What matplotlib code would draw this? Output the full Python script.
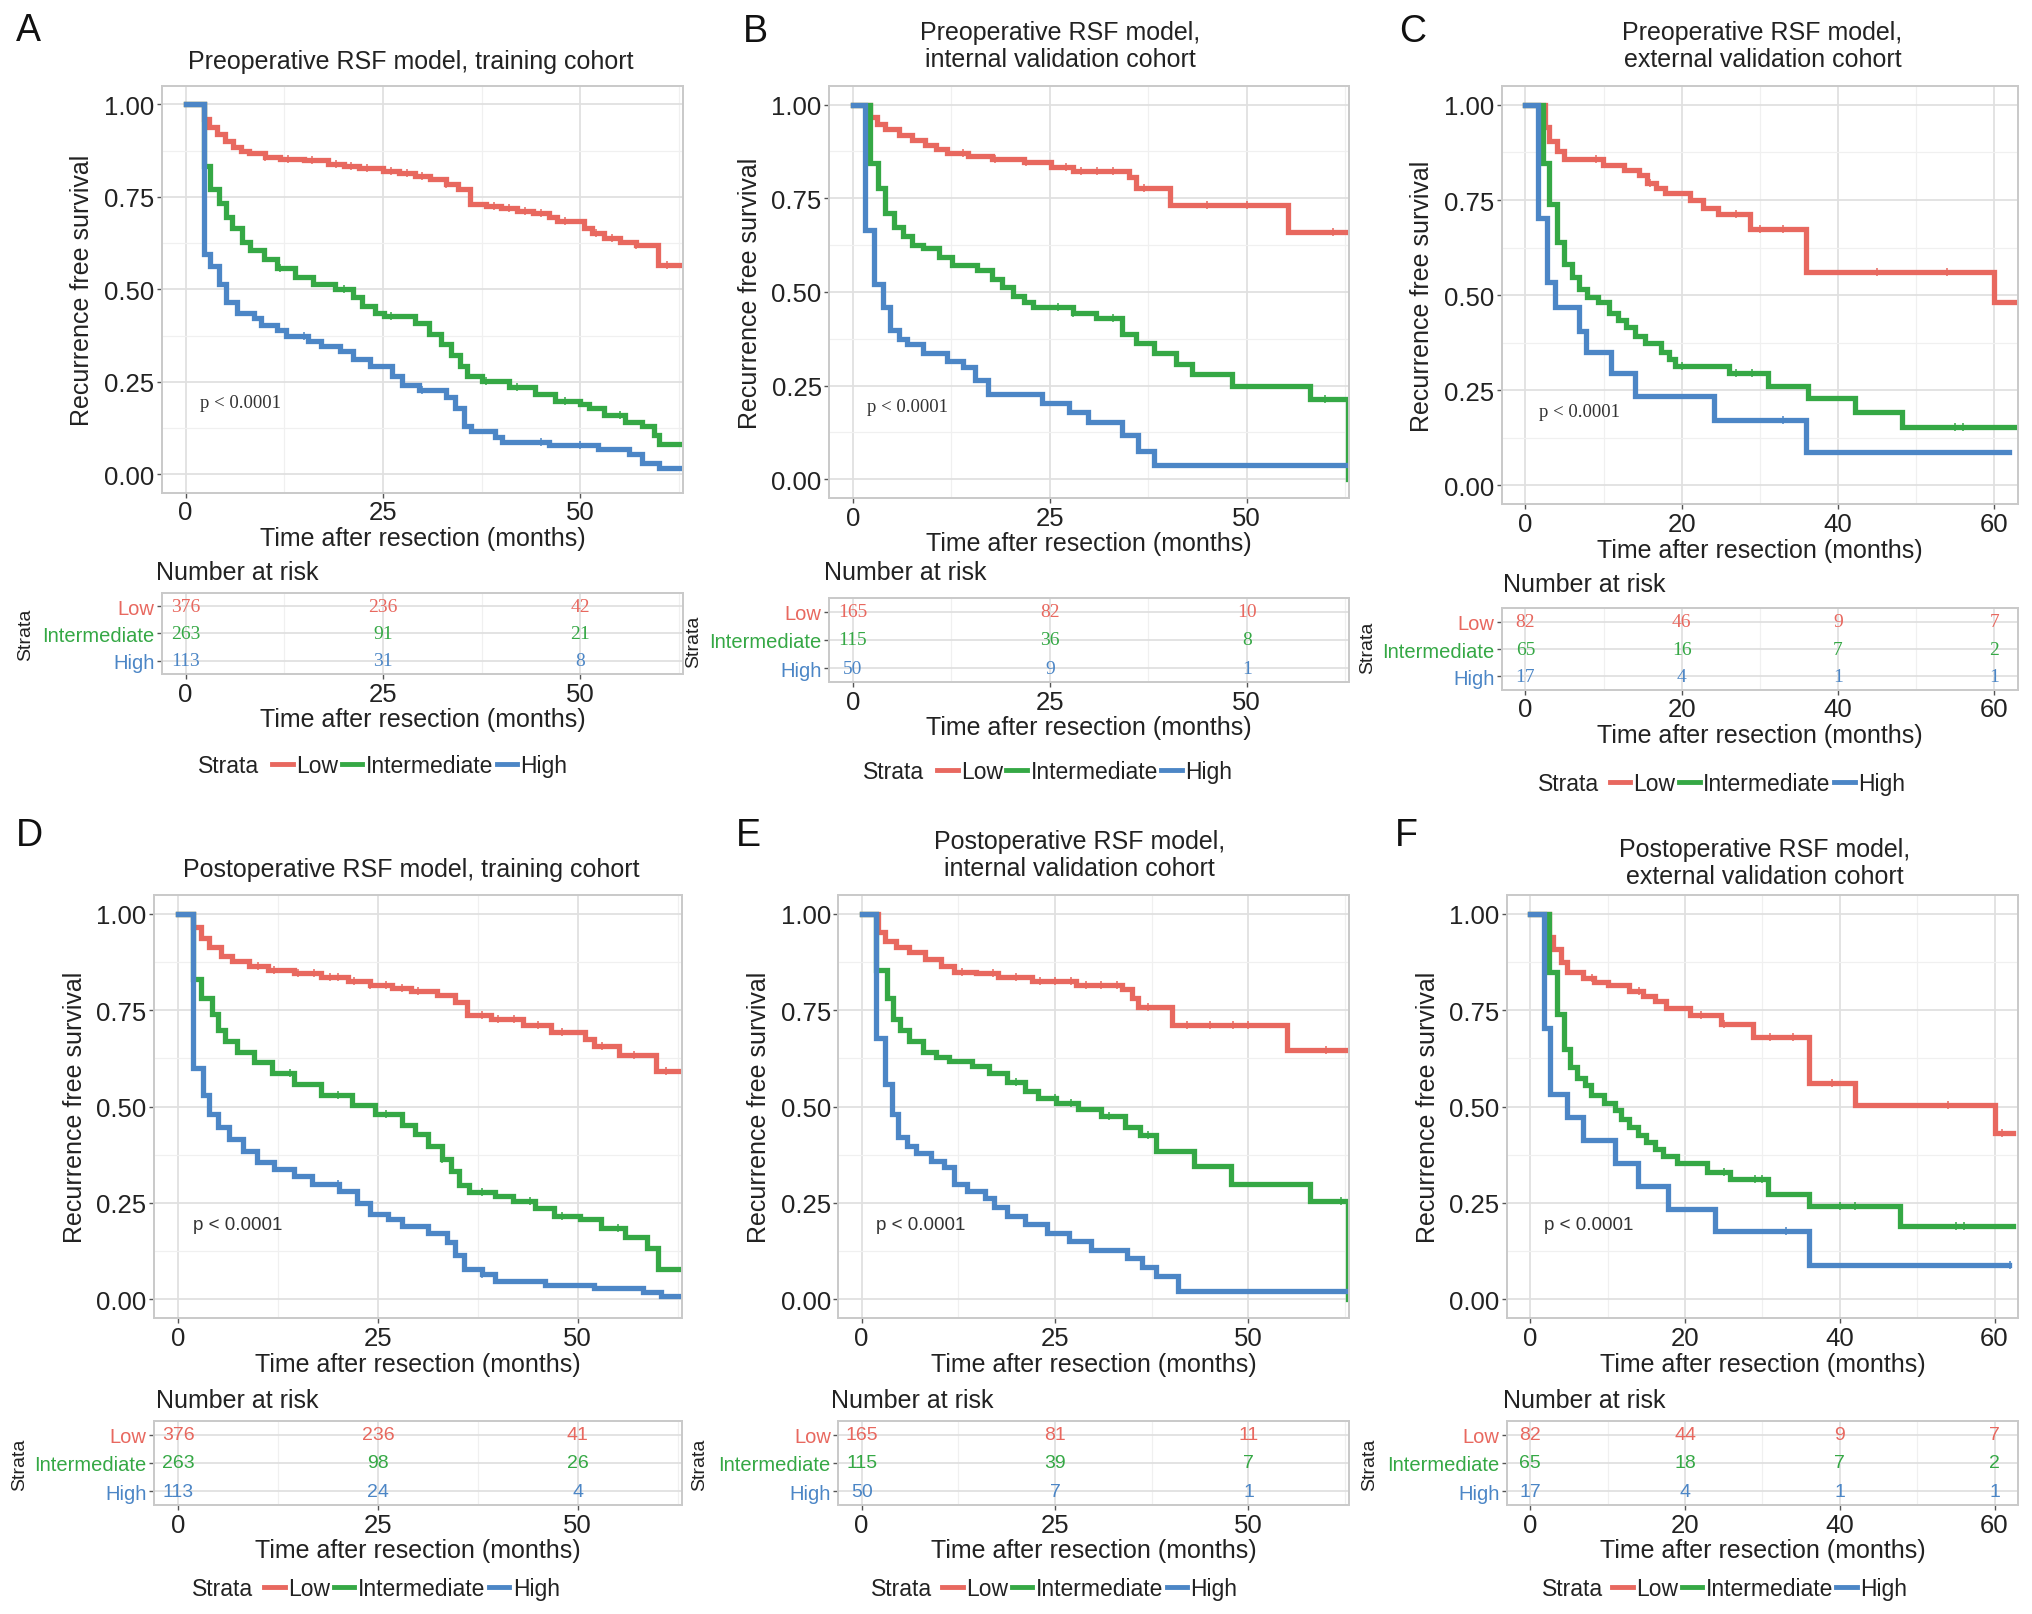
import numpy as np
import matplotlib
matplotlib.use("Agg")
import matplotlib.pyplot as plt
from matplotlib.lines import Line2D
from matplotlib.ticker import MultipleLocator

plt.rcParams['font.family'] = ['Liberation Sans', 'DejaVu Sans']

RED, GREEN, BLUE = '#E8685F', '#35A845', '#4C86C6'
STRATA = ['Low', 'Intermediate', 'High']
COLORS = [RED, GREEN, BLUE]

# ---------------- data ----------------
# times of each drop (last = end of follow-up) and survival after it
A_low_t = [2.3, 3, 4, 5, 6, 7, 8, 10, 12, 15, 18, 20, 22, 25, 27, 29, 31, 33, 34.5, 36, 38, 40, 42, 44, 46, 47, 50.5, 51.5, 53, 55, 57, 59.8, 62.6]
A_low_s = [0.96, 0.94, 0.92, 0.90, 0.885, 0.875, 0.868, 0.858, 0.853, 0.849, 0.84, 0.834, 0.828, 0.82, 0.815, 0.807, 0.797, 0.785, 0.772, 0.73, 0.725, 0.72, 0.713, 0.705, 0.695, 0.686, 0.667, 0.653, 0.64, 0.627, 0.62, 0.566, 0.566]
A_int_t = [2.3, 3.1, 4.2, 5.1, 5.9, 7.1, 8.2, 9.9, 11.6, 13.8, 16.1, 18.9, 21.2, 22.3, 24, 25.1, 29.1, 30.8, 32.4, 33.6, 34.7, 35.6, 37.5, 40.9, 44.3, 46.8, 49.9, 51.1, 53, 55.6, 57.8, 59.3, 60, 62.6]
A_int_s = [0.834, 0.772, 0.734, 0.696, 0.667, 0.629, 0.605, 0.581, 0.557, 0.533, 0.514, 0.5, 0.48, 0.456, 0.437, 0.428, 0.409, 0.38, 0.351, 0.322, 0.294, 0.265, 0.251, 0.236, 0.217, 0.198, 0.189, 0.179, 0.16, 0.141, 0.131, 0.107, 0.083, 0.083]
A_high_t = [2.3, 3.1, 4.2, 5.1, 6.5, 8.7, 9.6, 11.6, 12.7, 15.5, 17.2, 19.5, 21.2, 23.4, 26.2, 27.4, 29.6, 33, 34.1, 35.3, 36.1, 39.2, 40.1, 46, 52.2, 56.2, 57.8, 60, 62.6]
A_high_s = [0.595, 0.562, 0.514, 0.466, 0.437, 0.423, 0.404, 0.389, 0.375, 0.361, 0.346, 0.332, 0.313, 0.294, 0.265, 0.241, 0.227, 0.208, 0.179, 0.131, 0.117, 0.102, 0.088, 0.078, 0.069, 0.055, 0.031, 0.016, 0.016]

B_low_t = [2.1, 3, 4.1, 5.8, 7.5, 9.2, 10.6, 12, 14.6, 17.7, 21.7, 25.1, 28, 35.1, 35.9, 40.2, 55.2, 62.9]
B_low_s = [0.967, 0.948, 0.934, 0.919, 0.905, 0.891, 0.882, 0.872, 0.863, 0.855, 0.846, 0.834, 0.823, 0.806, 0.777, 0.732, 0.659, 0.659]
B_int_t = [2.1, 3.2, 4.1, 5.2, 6.4, 7.5, 8.9, 10.9, 12.6, 15.7, 17.7, 18.9, 20.3, 21.7, 22.8, 28, 30.8, 34.2, 35.9, 38.2, 41, 43, 48.1, 58.1, 62.9]
B_int_s = [0.844, 0.777, 0.711, 0.673, 0.649, 0.626, 0.616, 0.592, 0.573, 0.559, 0.535, 0.512, 0.488, 0.474, 0.46, 0.445, 0.431, 0.389, 0.365, 0.336, 0.308, 0.28, 0.248, 0.215, 0.0]
B_high_t = [1.5, 2.7, 3.8, 4.7, 5.8, 6.9, 8.9, 12, 14, 15.5, 17.2, 24, 27.4, 29.9, 34.2, 36.2, 38.2, 62.9]
B_high_s = [0.664, 0.521, 0.46, 0.398, 0.374, 0.36, 0.336, 0.317, 0.299, 0.265, 0.227, 0.204, 0.18, 0.152, 0.118, 0.076, 0.038, 0.038]

C_low_t = [2.5, 3, 4.1, 4.9, 9.9, 12.6, 14.5, 15.6, 16.7, 17.8, 21.1, 22.7, 24.7, 28.8, 35.9, 60, 62.7]
C_low_s = [0.941, 0.904, 0.88, 0.857, 0.843, 0.829, 0.815, 0.796, 0.782, 0.768, 0.749, 0.73, 0.712, 0.674, 0.562, 0.482, 0.482]
C_int_t = [2.2, 3, 4.1, 4.9, 6, 6.8, 7.9, 9.3, 10.7, 11.8, 12.9, 14, 15.3, 17.3, 18.4, 19.2, 26, 31, 36.2, 42.2, 48.2, 62.7]
C_int_s = [0.847, 0.74, 0.641, 0.581, 0.548, 0.515, 0.496, 0.482, 0.454, 0.435, 0.417, 0.393, 0.375, 0.351, 0.332, 0.314, 0.295, 0.262, 0.229, 0.192, 0.154, 0.154]
C_high_t = [1.6, 2.7, 3.8, 6.8, 7.7, 11, 14, 24.1, 35.9, 61.9]
C_high_s = [0.702, 0.534, 0.468, 0.407, 0.351, 0.295, 0.234, 0.173, 0.087, 0.087]

D_low_t = [1.8, 2.8, 3.9, 5.3, 6.7, 8.9, 11.2, 14.5, 17.9, 21.3, 24, 26.8, 29.1, 32.4, 34.7, 36.1, 39.1, 43.1, 46.7, 50.9, 52, 55.1, 59.8, 62.8]
D_low_s = [0.966, 0.938, 0.915, 0.892, 0.878, 0.864, 0.855, 0.846, 0.836, 0.827, 0.816, 0.808, 0.799, 0.79, 0.772, 0.737, 0.726, 0.712, 0.693, 0.675, 0.656, 0.633, 0.591, 0.591]
D_int_t = [1.8, 2.8, 4.2, 5, 5.9, 7.3, 9.5, 11.7, 14.5, 17.9, 21.8, 24.6, 28, 29.6, 31.3, 33, 34.1, 35.2, 36.4, 39.7, 41.9, 44.7, 47, 50.3, 52.9, 55.9, 58.7, 60.1, 62.8]
D_int_s = [0.832, 0.781, 0.739, 0.698, 0.67, 0.642, 0.615, 0.587, 0.559, 0.531, 0.504, 0.481, 0.453, 0.43, 0.397, 0.365, 0.333, 0.296, 0.277, 0.268, 0.254, 0.236, 0.217, 0.208, 0.185, 0.162, 0.134, 0.079, 0.079]
D_high_t = [1.8, 3.1, 3.9, 5, 6.4, 8.1, 9.8, 12, 14.5, 16.8, 20.1, 22.4, 24, 26.3, 28, 31.3, 33.6, 34.7, 35.8, 38, 39.7, 45.9, 52, 58.2, 60.4, 62.8]
D_high_s = [0.601, 0.531, 0.481, 0.448, 0.416, 0.384, 0.356, 0.337, 0.319, 0.3, 0.282, 0.25, 0.222, 0.208, 0.189, 0.171, 0.148, 0.116, 0.079, 0.065, 0.046, 0.037, 0.028, 0.018, 0.009, 0.009]

E_low_t = [2.1, 3, 4.4, 6.1, 8.2, 10.2, 11.9, 14.8, 17.6, 22, 27.7, 33.7, 34.9, 35.7, 40.1, 55, 62.9]
E_low_s = [0.952, 0.929, 0.915, 0.901, 0.883, 0.864, 0.85, 0.846, 0.836, 0.827, 0.816, 0.804, 0.781, 0.758, 0.712, 0.647, 0.647]
E_int_t = [1.8, 3.3, 4.1, 5, 6.1, 7.9, 9.6, 11.3, 14.2, 16.5, 18.8, 21.1, 22.8, 25.1, 28, 30.9, 34, 36, 38, 42.9, 47.8, 57.9, 62.9]
E_int_s = [0.855, 0.781, 0.726, 0.698, 0.67, 0.642, 0.628, 0.619, 0.605, 0.587, 0.564, 0.541, 0.522, 0.508, 0.494, 0.476, 0.448, 0.425, 0.384, 0.347, 0.3, 0.256, 0.0]
E_high_t = [1.8, 3, 3.9, 4.7, 5.9, 7, 9, 10.7, 11.9, 13.6, 15.9, 17.1, 18.8, 21.1, 24, 26.8, 29.7, 34.3, 36.3, 38, 40.9, 62.9]
E_high_s = [0.679, 0.559, 0.481, 0.421, 0.397, 0.379, 0.36, 0.342, 0.3, 0.282, 0.263, 0.24, 0.217, 0.194, 0.171, 0.152, 0.129, 0.106, 0.083, 0.06, 0.021, 0.021]

F_low_t = [2.4, 2.9, 4, 4.8, 6.8, 8.2, 10.1, 12.8, 14.5, 16.1, 17.5, 20.6, 24.7, 28.8, 36, 42, 60, 62.4]
F_low_s = [0.94, 0.908, 0.876, 0.848, 0.834, 0.824, 0.815, 0.801, 0.787, 0.774, 0.755, 0.737, 0.713, 0.681, 0.561, 0.503, 0.432, 0.432]
F_int_t = [2.4, 3.5, 4.3, 5.1, 6, 7.1, 7.9, 9.5, 10.9, 11.7, 12.8, 13.9, 15, 16.1, 17.2, 18.9, 22.8, 25.8, 30.7, 36, 47.8, 62.4]
F_int_s = [0.848, 0.741, 0.649, 0.603, 0.575, 0.556, 0.529, 0.51, 0.492, 0.469, 0.446, 0.427, 0.409, 0.39, 0.372, 0.353, 0.33, 0.311, 0.274, 0.242, 0.191, 0.191]
F_high_t = [1.8, 2.6, 4.8, 6.8, 10.9, 13.9, 17.8, 23.9, 36, 61.9]
F_high_s = [0.704, 0.533, 0.473, 0.413, 0.353, 0.293, 0.233, 0.177, 0.09, 0.09]

# censoring marks (months)
A_cens = [[10, 13, 16, 19, 21, 23, 26, 28, 30, 33, 39, 41, 43, 45, 48, 52, 54, 57, 61], [12, 20, 26, 38, 42, 48, 55], [15, 30, 45, 50]]
B_cens = [[14, 18, 22, 27, 29, 31, 33, 37, 45, 50, 61], [26, 28, 33, 60], []]
C_cens = [[9, 16, 27, 30, 33, 45, 54], [20, 27, 29, 55, 56], [33]]
D_cens = [[10, 12, 15, 17, 19, 20, 22, 24, 26, 28, 30, 38, 40, 42, 45, 48, 53, 57, 61], [14, 20, 26, 33, 38, 44, 48, 55], [20, 38]]
E_cens = [[13, 17, 20, 23, 25, 27, 29, 31, 33, 37, 42, 45, 48, 50, 60], [20, 25, 27, 32, 37, 62], []]
F_cens = [[8, 14, 22, 25, 31, 34, 39, 54, 61], [25, 29, 30, 40, 42, 55, 56], [33, 62]]

# number at risk
TICKS_25 = [0, 25, 50]
TICKS_20 = [0, 20, 40, 60]
A_risk = [[376, 236, 42], [263, 91, 21], [113, 31, 8]]
B_risk = [[165, 82, 10], [115, 36, 8], [50, 9, 1]]
C_risk = [[82, 46, 9, 7], [65, 16, 7, 2], [17, 4, 1, 1]]
D_risk = [[376, 236, 41], [263, 98, 26], [113, 24, 4]]
E_risk = [[165, 81, 11], [115, 39, 7], [50, 7, 1]]
F_risk = [[82, 44, 9, 7], [65, 18, 7, 2], [17, 4, 1, 1]]

TITLES = ["Preoperative RSF model, training cohort",
          "Preoperative RSF model,\ninternal validation cohort",
          "Preoperative RSF model,\nexternal validation cohort",
          "Postoperative RSF model, training cohort",
          "Postoperative RSF model,\ninternal validation cohort",
          "Postoperative RSF model,\nexternal validation cohort"]

# ---------------- layout (reference pixel frame 1568 x 1246) ----------------
W, H = 1568.0, 1246.0


def rect(l, t, r, b):
    return [l / W, 1 - b / H, (r - l) / W, (b - t) / H]


def fx(x):
    return x / W


def fy(y):
    return 1 - y / H


panels = [
    dict(letter='A', curves=[(A_low_t, A_low_s), (A_int_t, A_int_s), (A_high_t, A_high_s)], cens=A_cens, risk=A_risk,
         ticks=TICKS_25, main=(125, 67, 527, 381), table=(125, 458, 527, 521), lab=(12, 24), title=(317, 48),
         nar=(120, 442), strata=(20, 490), leg=(153, 210, 591), serif=True),
    dict(letter='B', curves=[(B_low_t, B_low_s), (B_int_t, B_int_s), (B_high_t, B_high_s)], cens=B_cens, risk=B_risk,
         ticks=TICKS_25, main=(640, 67, 1041, 385), table=(640, 462, 1041, 527), lab=(573, 25), title=(818, 36),
         nar=(636, 442), strata=(535, 495), leg=(666, 723, 596), serif=True),
    dict(letter='C', curves=[(C_low_t, C_low_s), (C_int_t, C_int_s), (C_high_t, C_high_s)], cens=C_cens, risk=C_risk,
         ticks=TICKS_20, main=(1159, 67, 1557, 390), table=(1159, 470, 1557, 533), lab=(1080, 25), title=(1360, 36),
         nar=(1160, 451), strata=(1055, 500), leg=(1187, 1242, 605), serif=True),
    dict(letter='D', curves=[(D_low_t, D_low_s), (D_int_t, D_int_s), (D_high_t, D_high_s)], cens=D_cens, risk=D_risk,
         ticks=TICKS_25, main=(119, 691, 526, 1018), table=(119, 1097, 526, 1162), lab=(12, 645), title=(317, 671),
         nar=(120, 1081), strata=(15, 1130), leg=(148, 204, 1226), serif=False),
    dict(letter='E', curves=[(E_low_t, E_low_s), (E_int_t, E_int_s), (E_high_t, E_high_s)], cens=E_cens, risk=E_risk,
         ticks=TICKS_25, main=(647, 691, 1041, 1018), table=(647, 1097, 1041, 1162), lab=(568, 645), title=(833, 660),
         nar=(641, 1081), strata=(540, 1130), leg=(672, 727, 1226), serif=False),
    dict(letter='F', curves=[(F_low_t, F_low_s), (F_int_t, F_int_s), (F_high_t, F_high_s)], cens=F_cens, risk=F_risk,
         ticks=TICKS_20, main=(1163, 691, 1557, 1018), table=(1163, 1097, 1557, 1162), lab=(1076, 645), title=(1362, 666),
         nar=(1160, 1081), strata=(1057, 1130), leg=(1190, 1244, 1226), serif=False),
]

XLIM = (-3, 63)
TXT = '#222222'


def style_axes(ax, ticks):
    ax.set_xlim(*XLIM)
    ax.set_xticks(ticks)
    step = ticks[1] - ticks[0]
    ax.set_xticks([t + step / 2 for t in range(-step, 70, step) if XLIM[0] < t + step / 2 < XLIM[1]], minor=True)
    ax.grid(which='major', color='#E0E0E0', lw=1.3)
    ax.grid(which='minor', axis='x', color='#F0F0F0', lw=0.9)
    ax.set_axisbelow(True)
    for sp in ax.spines.values():
        sp.set_color('#C9C9C9')
        sp.set_linewidth(1.4)
    ax.tick_params(which='major', length=3.5, width=1, color='#555555', labelsize=18.5, labelcolor=TXT, pad=2)
    ax.tick_params(which='minor', length=0)


fig = plt.figure(figsize=(20.32, 16.15), dpi=100)

for i, p in enumerate(panels):
    num_font = ['Liberation Serif', 'DejaVu Serif'] if p['serif'] else ['Liberation Sans Narrow', 'Liberation Sans']

    # survival curves
    ax = fig.add_axes(rect(*p['main']))
    for (t, s), c, cens in zip(p['curves'], COLORS, p['cens']):
        tt = np.array([0] + list(t))
        ss = np.array([1.0] + list(s))
        ax.step(tt, ss, where='post', color=c, lw=3.8, solid_joinstyle='miter')
        if cens:
            idx = np.searchsorted(tt, cens, side='right') - 1
            ax.plot(cens, ss[idx], ls='none', marker='|', ms=6, mew=1.1, color=c)
    style_axes(ax, p['ticks'])
    ax.set_ylim(-0.05, 1.05)
    ax.set_yticks([0, 0.25, 0.5, 0.75, 1.0])
    ax.set_yticklabels(['0.00', '0.25', '0.50', '0.75', '1.00'])
    ax.set_yticks([0.125, 0.375, 0.625, 0.875], minor=True)
    ax.grid(which='minor', axis='y', color='#F0F0F0', lw=0.9)
    ax.set_xlabel('Time after resection (months)', fontsize=18, color=TXT, labelpad=1)
    ax.set_ylabel('Recurrence free survival', fontsize=18, color=TXT, labelpad=7)
    ax.text(1.8, 0.195, 'p < 0.0001', fontsize=13.5, family=num_font, color='#333333', ha='left', va='center')

    fig.text(fx(p['lab'][0]), fy(p['lab'][1]), p['letter'], fontsize=27, color='#111111', ha='left', va='center')
    fig.text(fx(p['title'][0]), fy(p['title'][1]), TITLES[i], fontsize=18, color=TXT, ha='center', va='center',
             linespacing=1.15)

    # risk table
    axt = fig.add_axes(rect(*p['table']))
    for row, (vals, c) in enumerate(zip(p['risk'], COLORS)):
        for x, v in zip(p['ticks'], vals):
            axt.text(x, 2 - row, str(v), color=c, fontsize=14, family=num_font, ha='center', va='center')
    style_axes(axt, p['ticks'])
    axt.set_ylim(-0.5, 2.5)
    axt.set_yticks([2, 1, 0])
    axt.set_yticklabels(STRATA)
    axt.tick_params(axis='y', labelsize=14.5)
    for lbl, c in zip(axt.get_yticklabels(), COLORS):
        lbl.set_color(c)
    axt.set_xlabel('Time after resection (months)', fontsize=18, color=TXT, labelpad=1)

    fig.text(fx(p['nar'][0]), fy(p['nar'][1]), 'Number at risk', fontsize=18, color=TXT, ha='left', va='center')
    fig.text(fx(p['strata'][0]), fy(p['strata'][1]), 'Strata', fontsize=14, color=TXT, rotation=90,
             ha='center', va='center')

    # legend
    lx, hx, ly = p['leg']
    fig.text(fx(lx), fy(ly), 'Strata', fontsize=16.5, color=TXT, ha='left', va='center')
    handles = [Line2D([], [], color=c, lw=3.5) for c in COLORS]
    fig.legend(handles, STRATA, loc='center left', bbox_to_anchor=(fx(hx), fy(ly)), ncol=3, frameon=False,
               fontsize=16.5, handlelength=0.9, handletextpad=0.15, columnspacing=0.15, borderpad=0,
               borderaxespad=0, labelcolor=TXT)

fig.savefig('out.png', dpi=100, facecolor='white')
